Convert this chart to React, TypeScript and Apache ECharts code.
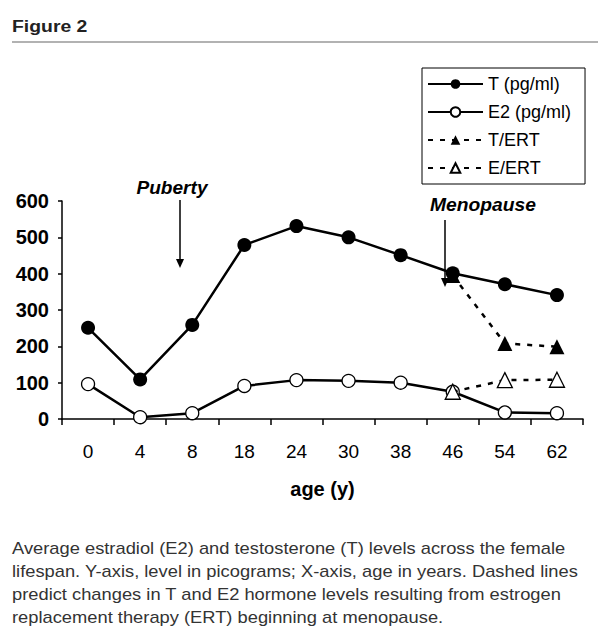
import React, { useEffect, useRef } from "react";
import * as echarts from "echarts";

const ages = ["0", "4", "8", "18", "24", "30", "38", "46", "54", "62"];
const tValues = [251, 109, 259, 479, 531, 500, 451, 401, 371, 341];
const e2Values = [96, 5, 16, 91, 107, 105, 100, 75, 18, 16];
const tErtValues = [null, null, null, null, null, null, null, 395, 208, 199];
const eErtValues = [null, null, null, null, null, null, null, 75, 107, 108];
const yTicks = { min: 0, max: 600, interval: 100 };
const seriesNames = ["T (pg/ml)", "E2 (pg/ml)", "T/ERT", "E/ERT"];
const captionLines = [
  "Average estradiol (E2) and testosterone (T) levels across the female",
  "lifespan. Y-axis, level in picograms; X-axis, age in years. Dashed lines",
  "predict changes in T and E2 hormone levels resulting from estrogen",
  "replacement therapy (ERT) beginning at menopause.",
];

const FONT = "'Liberation Sans', Arial, Helvetica, sans-serif";

export default function App() {
  const ref = useRef<HTMLDivElement>(null);
  useEffect(() => {
    if (!ref.current) return;
    const chart = echarts.init(ref.current, undefined, { renderer: "svg" });
    const dash = [5, 7];
    chart.setOption({
      animation: false,
      backgroundColor: "#fff",
      textStyle: { fontFamily: FONT },
      grid: { left: 62, right: 28, top: 201, bottom: 217, containLabel: false },
      xAxis: {
        type: "category",
        data: ages,
        boundaryGap: true,
        name: "age (y)",
        nameLocation: "middle",
        nameGap: 60,
        nameTextStyle: { fontSize: 20, fontWeight: "bold", color: "#000", fontFamily: FONT },
        axisLine: { lineStyle: { color: "#000", width: 1.5 } },
        axisTick: { show: true, length: 6, alignWithLabel: false, lineStyle: { color: "#000", width: 1.5 } },
        axisLabel: { fontSize: 19, color: "#000", margin: 23, fontFamily: FONT },
        splitLine: { show: false },
      },
      yAxis: {
        type: "value",
        min: yTicks.min,
        max: yTicks.max,
        interval: yTicks.interval,
        axisLine: { show: true, lineStyle: { color: "#000", width: 1.5 } },
        axisTick: { show: true, length: 4, lineStyle: { color: "#000", width: 1.5 } },
        axisLabel: { fontSize: 20, fontWeight: "bold", color: "#000", margin: 13, fontFamily: FONT },
        splitLine: { show: false },
      },
      legend: {
        orient: "vertical",
        left: 422,
        top: 68,
        itemWidth: 55,
        itemHeight: 12,
        itemGap: 10,
        padding: [7, 14, 7, 5],
        borderColor: "#000",
        borderWidth: 1,
        data: seriesNames,
        textStyle: { fontSize: 18, color: "#000", fontFamily: FONT },
      },
      series: [
        {
          name: seriesNames[0],
          type: "line",
          data: tValues,
          symbol: "circle",
          symbolSize: 14,
          lineStyle: { color: "#000", width: 2.5 },
          itemStyle: { color: "#000" },
          z: 3,
        },
        {
          name: seriesNames[1],
          type: "line",
          data: e2Values,
          symbol: "circle",
          symbolSize: 13,
          lineStyle: { color: "#000", width: 2.5 },
          itemStyle: { color: "#fff", borderColor: "#000", borderWidth: 1.3 },
          z: 3,
        },
        {
          name: seriesNames[2],
          type: "line",
          data: tErtValues,
          symbol: "triangle",
          symbolSize: 15,
          connectNulls: false,
          lineStyle: { color: "#000", width: 2.5, type: dash },
          itemStyle: { color: "#000" },
          z: 4,
        },
        {
          name: seriesNames[3],
          type: "line",
          data: eErtValues,
          symbol: "triangle",
          symbolSize: 15,
          lineStyle: { color: "#000", width: 2.5, type: dash },
          itemStyle: { color: "#fff", borderColor: "#000", borderWidth: 1.3 },
          z: 4,
        },
      ],
      graphic: [
        {
          type: "text",
          x: 12,
          y: 26,
          scaleX: 1.14,
          style: {
            text: "Figure 2",
            fontSize: 17,
            fontWeight: "bold",
            fill: "#222",
            verticalAlign: "middle",
            fontFamily: FONT,
          },
        },
        {
          type: "line",
          shape: { x1: 12, y1: 42, x2: 598, y2: 42 },
          style: { stroke: "#999", lineWidth: 1.5 },
        },
        {
          type: "text",
          x: 172,
          y: 188,
          scaleX: 1.06,
          style: {
            text: "Puberty",
            fontSize: 18,
            fontWeight: "bold",
            fontStyle: "italic",
            fill: "#000",
            align: "center",
            verticalAlign: "middle",
            fontFamily: FONT,
          },
        },
        {
          type: "line",
          shape: { x1: 180, y1: 200, x2: 180, y2: 262 },
          style: { stroke: "#000", lineWidth: 1.5 },
        },
        {
          type: "polygon",
          shape: { points: [[176, 259], [184, 259], [180, 268]] },
          style: { fill: "#000" },
        },
        {
          type: "text",
          x: 483,
          y: 205,
          scaleX: 1.07,
          style: {
            text: "Menopause",
            fontSize: 18,
            fontWeight: "bold",
            fontStyle: "italic",
            fill: "#000",
            align: "center",
            verticalAlign: "middle",
            fontFamily: FONT,
          },
          z: 10,
        },
        {
          type: "line",
          shape: { x1: 445, y1: 220, x2: 445, y2: 280 },
          style: { stroke: "#000", lineWidth: 1.5 },
          z: 10,
        },
        {
          type: "polygon",
          shape: { points: [[441, 278], [449, 278], [445, 287]] },
          style: { fill: "#000" },
          z: 10,
        },
        {
          type: "text",
          x: 12,
          y: 537,
          scaleX: 1.145,
          style: {
            text: captionLines.join("\n"),
            fontSize: 16,
            lineHeight: 23,
            fill: "#333",
            verticalAlign: "top",
            fontFamily: FONT,
          },
        },
      ],
    });
    return () => chart.dispose();
  }, []);
  return (
    <div
      ref={ref}
      style={{ position: "fixed", left: 0, top: 0, width: 611, height: 636, background: "#fff" }}
    />
  );
}
